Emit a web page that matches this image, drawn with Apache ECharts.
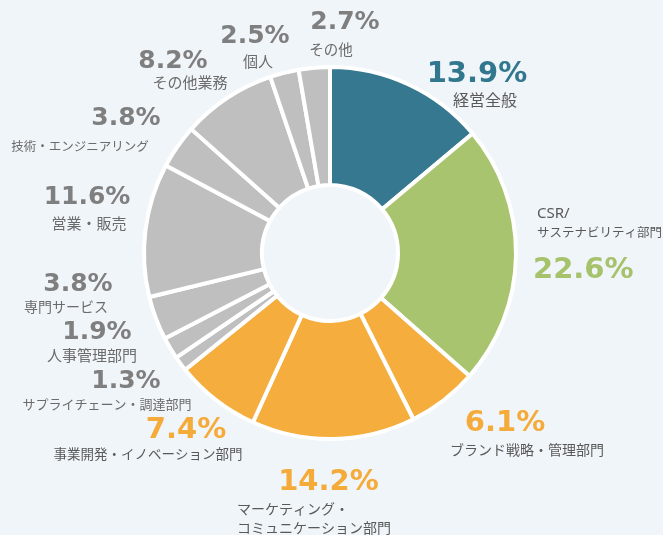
<!DOCTYPE html>
<html><head><meta charset="utf-8">
<script src="https://cdn.jsdelivr.net/npm/echarts@6/dist/echarts.min.js"></script>
<style>html,body{margin:0;padding:0;background:#F0F5F9;}#c{width:663px;height:535px;}</style>
</head><body><div id="c"></div>
<script>
// ---- data ----
const categories = ['経営全般', 'CSR/\nサステナビリティ部門', 'ブランド戦略・管理部門', 'マーケティング・\nコミュニケーション部門', '事業開発・イノベーション部門', 'サプライチェーン・調達部門', '人事管理部門', '専門サービス', '営業・販売', '技術・エンジニアリング', 'その他業務', '個人', 'その他'];
const values = [13.9, 22.6, 6.1, 14.2, 7.4, 1.3, 1.9, 3.8, 11.6, 3.8, 8.2, 2.5, 2.7];
const groups = ['teal', 'green', 'orange', 'orange', 'orange', 'gray', 'gray', 'gray', 'gray', 'gray', 'gray', 'gray', 'gray'];

// ---- styles ----
const sliceColor = { teal: '#36788F', green: '#A9C46F', orange: '#F5AE3D', gray: '#BFBFBF' };
const pctColor = { teal: '#31778E', green: '#A6C26B', orange: '#F5AB3A', gray: '#7F7F7F' };
const nameColor = { teal: '#595959', green: '#595959', orange: '#595959', gray: '#6B6B6B' };
const pctSize = { teal: 29, green: 29, orange: 29, gray: 25 };

// label placement (x, top, align, pct offset d, pct line height, name line height, name font size)
const labelCfg = [
  { x: 485, top: 59, align: 'center', d: -8, pLH: 30, nLH: 22, nFS: 16 },
  { x: 533, top: 204, align: 'left', d: 0, pLH: 57, nLH: 19, nFS: 12.5, nameFirst: true, nameLeft: true },
  { x: 527, top: 408, align: 'center', d: -22, pLH: 30, nLH: 24, nFS: 14 },
  { x: 237, top: 465, align: 'left', d: 14.5, pLH: 34, nLH: 19, nFS: 14, nameLeft: true },
  { x: 148, top: 415, align: 'center', d: 38, pLH: 30, nLH: 18, nFS: 13.5 },
  { x: 107, top: 366, align: 'center', d: 19, pLH: 30, nLH: 16, nFS: 13 },
  { x: 92, top: 317, align: 'center', d: 5, pLH: 30, nLH: 16, nFS: 15 },
  { x: 66, top: 269, align: 'center', d: 12, pLH: 30, nLH: 16, nFS: 14 },
  { x: 89, top: 182, align: 'center', d: -2, pLH: 30, nLH: 22, nFS: 15 },
  { x: 80, top: 103, align: 'center', d: 46, pLH: 30, nLH: 26, nFS: 12.5 },
  { x: 190, top: 46, align: 'center', d: -17, pLH: 30, nLH: 12, nFS: 15 },
  { x: 258, top: 21, align: 'center', d: -3, pLH: 30, nLH: 20, nFS: 15 },
  { x: 331, top: 7, align: 'center', d: 14, pLH: 30, nLH: 24, nFS: 14.5 }
];

const seriesData = categories.map((name, i) => {
  const g = groups[i];
  const c = labelCfg[i];
  const pad = c.d >= 0 ? [0, 0, 0, 2 * c.d] : [0, -2 * c.d, 0, 0];
  const pctText = '{p|' + values[i].toFixed(1) + '%}';
  const nameLines = name.split('\n').map(s => (/^[\x00-\x7F]+$/.test(s) ? '{a|' : '{n|') + s + '}').join('\n');
  const nStyle = {
    fontFamily: 'Noto Sans CJK JP', fontSize: c.nFS, color: nameColor[g],
    lineHeight: c.nLH, align: c.nameLeft ? 'left' : 'center', padding: c.nameFirst ? [0, 0, 0, 4] : 0
  };
  return {
    name: name,
    value: values[i],
    itemStyle: { color: sliceColor[g] },
    label: {
      formatter: c.nameFirst ? nameLines + '\n' + pctText : pctText + '\n' + nameLines,
      rich: {
        p: {
          fontFamily: 'DejaVu Sans', fontWeight: 'bold', fontSize: pctSize[g],
          color: pctColor[g], lineHeight: c.pLH, align: c.nameFirst ? 'left' : 'center', padding: c.nameFirst ? 0 : pad
        },
        n: nStyle,
        a: Object.assign({}, nStyle, { fontFamily: 'Noto Sans', fontSize: 15 })
      }
    }
  };
});

const chart = echarts.init(document.getElementById('c'), null, { renderer: 'canvas' });
chart.setOption({
  backgroundColor: '#F0F5F9',
  animation: false,
  series: [{
    type: 'pie',
    center: [330, 253],
    radius: [68, 186],
    startAngle: 90,
    clockwise: true,
    avoidLabelOverlap: false,
    itemStyle: { borderColor: '#FFFFFF', borderWidth: 4 },
    label: { show: true, position: 'outside' },
    labelLine: { show: false },
    emphasis: { disabled: true },
    labelLayout: function (params) {
      const c = labelCfg[params.dataIndex];
      return { x: c.x, y: c.top, align: c.align, verticalAlign: 'top' };
    },
    data: seriesData
  }]
});
</script></body></html>
